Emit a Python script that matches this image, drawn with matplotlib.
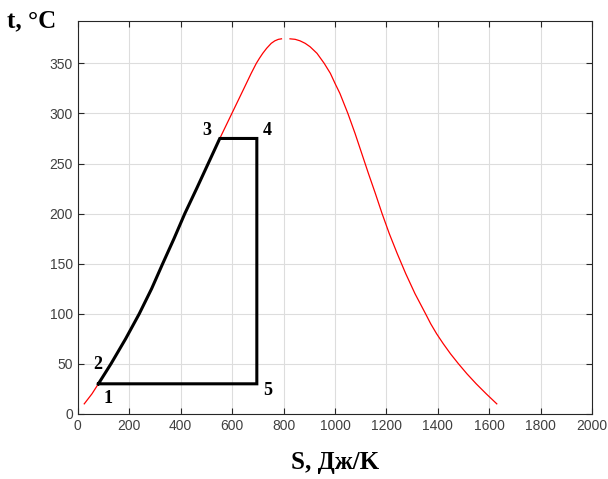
import matplotlib.pyplot as plt

# saturation curve, liquid side (S, t)
liq_s = [25, 55, 80, 129, 186, 239, 287, 330, 374, 416, 462, 507, 552, 599, 646, 674,
         694, 706, 719, 734, 752, 766, 780, 792]
liq_t = [10, 20, 30, 50, 75, 100, 125, 150, 175, 200, 225, 250, 275, 300, 325, 340,
         350, 355, 360, 365, 370, 372.5, 374, 374.5]

# saturation curve, vapour side
vap_s = [825, 845, 864, 884, 903, 930, 958, 982, 1000, 1019, 1050, 1078, 1104, 1130,
         1157, 1183, 1211, 1242, 1275, 1311, 1352, 1372, 1395, 1421, 1449, 1480, 1513,
         1549, 1588, 1629]
vap_t = [374.5, 374, 372.5, 370, 366.6, 360, 350, 340, 330, 320, 300, 280, 260, 240,
         220, 200, 180, 160, 140, 120, 100, 90, 80, 70, 60, 50, 40, 30, 20, 10]

# cycle 1-2-3-4-5-1
cyc_s = [80, 129, 186, 239, 287, 330, 374, 416, 462, 507, 552, 696, 696, 80]
cyc_t = [30, 50, 75, 100, 125, 150, 175, 200, 225, 250, 275, 275, 30, 30]

pt_names = ['1', '2', '3', '4', '5']
pt_s = [118, 79, 501, 737, 737]
pt_t = [15, 49, 283, 283, 23]

plt.rcParams['font.family'] = ['Liberation Sans', 'DejaVu Sans']
fig = plt.figure(figsize=(6.08, 4.79), dpi=100)
ax = fig.add_axes([0.128, 0.136, 0.846, 0.821])

ax.plot(liq_s, liq_t, color='red', lw=0.9)
ax.plot(vap_s, vap_t, color='red', lw=0.9)
ax.plot(cyc_s, cyc_t, color='black', lw=2.2, solid_joinstyle='miter')

for name, s, t in zip(pt_names, pt_s, pt_t):
    ax.text(s, t, name, ha='center', va='center', fontsize=13, fontweight='bold',
            family=['Liberation Serif', 'DejaVu Serif'])

ax.set_xlim(0, 2000)
ax.set_ylim(0, 392.7)
ax.set_xticks(range(0, 2001, 200))
ax.set_yticks(range(0, 351, 50))
ax.grid(True, color='#dddddd', lw=0.8)
ax.set_axisbelow(True)
ax.tick_params(direction='in', top=True, right=True, length=4, width=0.8,
               colors='#262626', labelcolor='#404040', labelsize=10)
for sp in ax.spines.values():
    sp.set_color('#262626')
    sp.set_linewidth(0.8)

fig.text(0.012, 0.957, 't, °C', fontsize=18, fontweight='bold', va='center', ha='left',
         family=['Liberation Serif', 'DejaVu Serif'])
fig.text(0.551, 0.035, 'S, Дж/K', fontsize=18, fontweight='bold', va='center', ha='center',
         family=['Liberation Serif', 'DejaVu Serif'])

fig.savefig('out.png', dpi=100)
